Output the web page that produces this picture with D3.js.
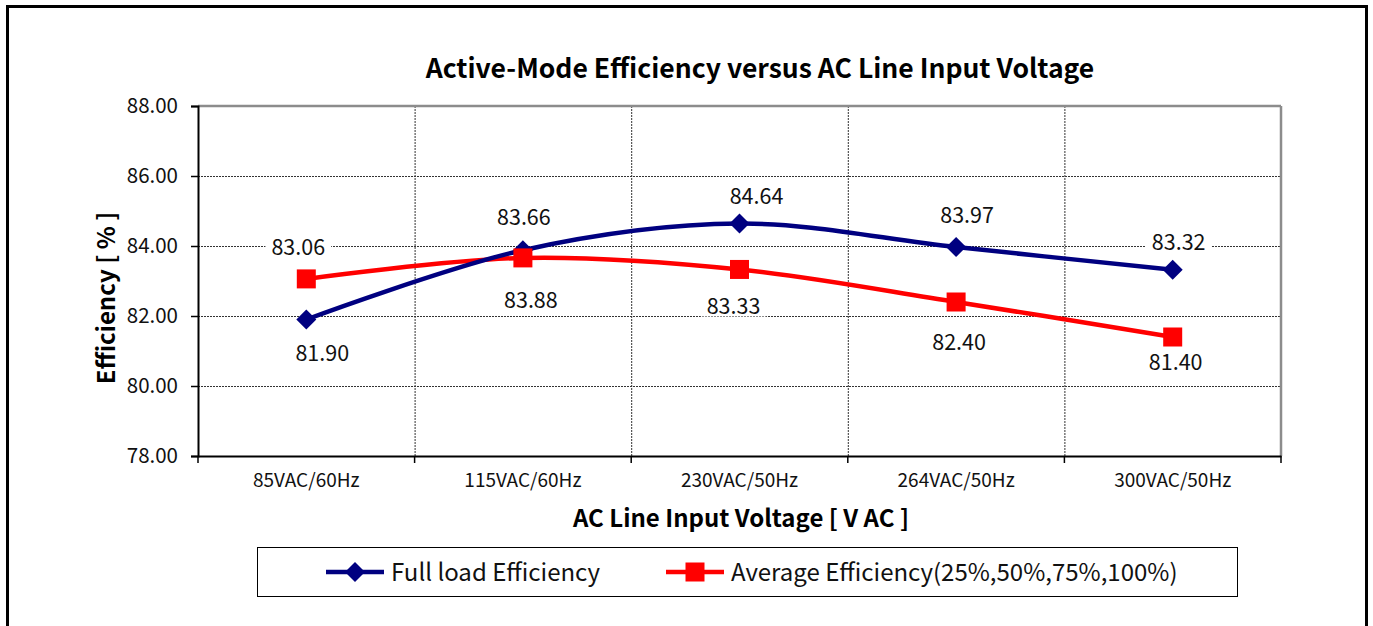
<!DOCTYPE html>
<html>
<head>
<meta charset="utf-8">
<script src="https://cdn.jsdelivr.net/npm/d3@7/dist/d3.min.js"></script>
<style>
  html, body { margin: 0; padding: 0; background: #fff; }
  svg { display: block; font-family: "Noto Sans CJK JP", "Noto Sans", sans-serif; }
</style>
</head>
<body>
<svg id="chart" width="1373" height="626"></svg>
<script>
// ---- data ----
const categories = ["85VAC/60Hz", "115VAC/60Hz", "230VAC/50Hz", "264VAC/50Hz", "300VAC/50Hz"];
const fullLoad = [81.90, 83.88, 84.64, 83.97, 83.32];
const average = [83.06, 83.66, 83.33, 82.40, 81.40];
const yTicks = [78, 80, 82, 84, 86, 88];
const seriesNames = ["Full load Efficiency", "Average Efficiency(25%,50%,75%,100%)"];

// ---- layout ----
const W = 1373, H = 626;
const plot = { left: 198, top: 106, right: 1281, bottom: 456 };
// data-label offsets (px) relative to each marker
const fullLabelOff = [[16, 34], [8, 50], [17, -27], [11, -32], [6, -28]];
const avgLabelOff = [[-8, -32], [1, -41], [-6, 37], [3, 40], [3, 25]];

const svg = d3.select("#chart");
const font = "'Noto Sans CJK JP', 'Noto Sans', sans-serif";

// outer border
svg.append("rect").attr("x", 7.5).attr("y", 6.5).attr("width", 1359).attr("height", 700)
  .attr("fill", "none").attr("stroke", "#000").attr("stroke-width", 3);

const x = d3.scaleBand().domain(categories).range([plot.left, plot.right]).padding(0);
const y = d3.scaleLinear().domain([78, 88]).range([plot.bottom, plot.top]);
const cx = c => x(c) + x.bandwidth() / 2;

// horizontal gridlines
svg.append("g").selectAll("line").data(yTicks.filter(t => t > 78 && t < 88)).join("line")
  .attr("x1", plot.left).attr("x2", plot.right)
  .attr("y1", d => y(d) + 0.5).attr("y2", d => y(d) + 0.5)
  .attr("stroke", "#333").attr("stroke-width", 1).attr("stroke-dasharray", "2,1");
// vertical gridlines at category boundaries
svg.append("g").selectAll("line").data(categories.slice(1)).join("line")
  .attr("x1", d => x(d) + 0.5).attr("x2", d => x(d) + 0.5)
  .attr("y1", plot.top).attr("y2", plot.bottom)
  .attr("stroke", "#333").attr("stroke-width", 1).attr("stroke-dasharray", "2,1");

// frame (top/right gray)
svg.append("line").attr("x1", plot.left).attr("x2", plot.right).attr("y1", plot.top).attr("y2", plot.top)
  .attr("stroke", "#8c8c8c").attr("stroke-width", 2.5);
svg.append("line").attr("x1", plot.right).attr("x2", plot.right).attr("y1", plot.top).attr("y2", plot.bottom)
  .attr("stroke", "#8c8c8c").attr("stroke-width", 2.5);

// data labels (white boxes) drawn before lines
function labels(values, offs) {
  const g = svg.append("g");
  values.forEach((v, i) => {
    const lx = cx(categories[i]) + offs[i][0];
    const ly = y(v) + offs[i][1];
    const t = g.append("text").attr("x", lx).attr("y", ly).attr("dy", "0.36em")
      .attr("text-anchor", "middle").attr("font-size", 21.5).attr("fill", "#111")
      .text(v.toFixed(2));
    const bb = t.node().getBBox();
    g.insert("rect", "text").attr("x", bb.x - 6).attr("y", ly - 10).attr("width", bb.width + 12).attr("height", 20)
      .attr("fill", "#fff");
  });
}
labels(fullLoad, fullLabelOff);
labels(average, avgLabelOff);

// y axis
const yAxis = svg.append("g").attr("transform", `translate(${plot.left},0)`)
  .call(d3.axisLeft(y).tickValues(yTicks).tickSize(7).tickPadding(13).tickFormat(d3.format(".2f")));
yAxis.select(".domain").attr("stroke", "#000").attr("stroke-width", 2);
yAxis.selectAll(".tick line").attr("stroke", "#000").attr("stroke-width", 1.5);
yAxis.selectAll(".tick text").attr("font-family", font).attr("font-size", 20.5).attr("fill", "#111");

// x axis
const xAxis = svg.append("g").attr("transform", `translate(0,${plot.bottom})`)
  .call(d3.axisBottom(x).tickSize(0).tickPadding(18));
xAxis.select(".domain").attr("stroke", "#000").attr("stroke-width", 2);
xAxis.selectAll(".tick text").attr("font-family", font).attr("font-size", 19).attr("fill", "#111");
// boundary ticks
svg.append("g").selectAll("line").data(categories.concat(["__end"])).join("line")
  .attr("x1", (d, i) => plot.left + i * x.bandwidth()).attr("x2", (d, i) => plot.left + i * x.bandwidth())
  .attr("y1", plot.bottom).attr("y2", plot.bottom + 7)
  .attr("stroke", "#000").attr("stroke-width", 1.5);

// series lines
const line = d3.line().x((d, i) => cx(categories[i])).y(d => y(d)).curve(d3.curveCardinal.tension(0));
svg.append("path").datum(average).attr("d", line).attr("fill", "none")
  .attr("stroke", "#ff0000").attr("stroke-width", 4.5);
svg.append("path").datum(fullLoad).attr("d", line).attr("fill", "none")
  .attr("stroke", "#000080").attr("stroke-width", 4.5);

// markers
const diamond = s => `M0,${-s}L${s},0L0,${s}L${-s},0Z`;
svg.append("g").selectAll("path").data(fullLoad).join("path")
  .attr("transform", (d, i) => `translate(${cx(categories[i])},${y(d)})`)
  .attr("d", diamond(10)).attr("fill", "#000080");
svg.append("g").selectAll("rect").data(average).join("rect")
  .attr("x", (d, i) => cx(categories[i]) - 9.5).attr("y", d => y(d) - 9.5)
  .attr("width", 19).attr("height", 19).attr("fill", "#ff0000");

// titles
svg.append("text").attr("x", 760).attr("y", 68).attr("dy", "0.36em").attr("text-anchor", "middle")
  .attr("font-size", 26.5).attr("font-weight", "bold").attr("fill", "#000")
  .text("Active-Mode Efficiency versus AC Line Input Voltage");
svg.append("text").attr("transform", "translate(106,298) rotate(-90)").attr("dy", "0.36em")
  .attr("text-anchor", "middle").attr("font-size", 24).attr("font-weight", "bold").attr("fill", "#000")
  .text("Efficiency [ % ]");
svg.append("text").attr("x", 741).attr("y", 518).attr("dy", "0.36em").attr("text-anchor", "middle")
  .attr("font-size", 24).attr("font-weight", "bold").attr("fill", "#000")
  .text("AC Line Input Voltage [ V AC ]");

// legend
const lg = svg.append("g");
lg.append("rect").attr("x", 257.5).attr("y", 547.5).attr("width", 980).attr("height", 49)
  .attr("fill", "#fff").attr("stroke", "#000").attr("stroke-width", 1);
const legendItems = [
  { name: seriesNames[0], color: "#000080", marker: "diamond", x0: 326, tx: 391 },
  { name: seriesNames[1], color: "#ff0000", marker: "square", x0: 666, tx: 731 }
];
legendItems.forEach(it => {
  lg.append("line").attr("x1", it.x0).attr("x2", it.x0 + 58).attr("y1", 572).attr("y2", 572)
    .attr("stroke", it.color).attr("stroke-width", 4.5);
  if (it.marker === "diamond") {
    lg.append("path").attr("transform", `translate(${it.x0 + 29},572)`).attr("d", diamond(10)).attr("fill", it.color);
  } else {
    lg.append("rect").attr("x", it.x0 + 29 - 9.5).attr("y", 572 - 9.5).attr("width", 19).attr("height", 19).attr("fill", it.color);
  }
  lg.append("text").attr("x", it.tx).attr("y", 572).attr("dy", "0.36em").attr("font-size", 24).attr("fill", "#111")
    .text(it.name);
});
</script>
</body>
</html>
